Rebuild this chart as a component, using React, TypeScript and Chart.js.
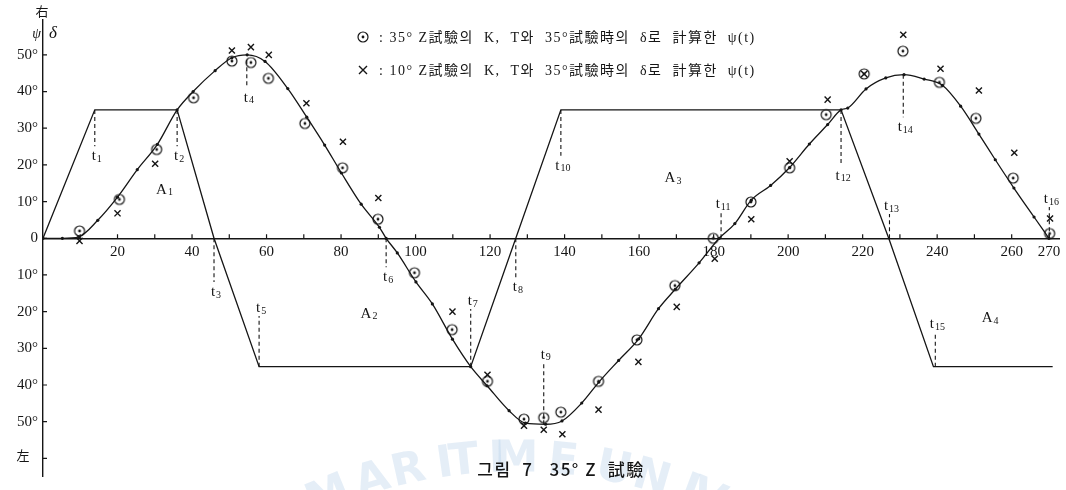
import React, { useEffect, useRef } from 'react';
import { Chart, registerables } from 'chart.js';

Chart.register(...registerables);

// ---------- data (time in sec, angles in degrees; right = +) ----------
const rudderTime = [0, 13.9, 36, 45.9, 58, 114.8, 126.9, 139, 214.2, 227, 239, 271];
const rudderDeg = [0, 35, 35, 0, -35, -35, 0, 35, 35, 0, -35, -35];

const headingTime = [0, 5.2, 9.6, 14.7, 20, 25.3, 30.7, 36, 40.3, 46.2, 50.7, 54.8, 59.6, 65.7, 70.8, 75.6, 80.1, 85.4, 90.3, 92.1, 95.1, 100.1, 104.5, 109.9, 114.8, 119.2, 125.1, 129.5, 134.9, 139.3, 144.6, 149.2, 154.5, 159.9, 165.2, 169.7, 176.1, 181.5, 185.7, 190.1, 195.3, 200.4, 205.7, 210.6, 214.2, 216, 220.9, 226.2, 231.1, 236.5, 241.4, 246.3, 251.2, 255.6, 260.6, 266, 270];
const headingDeg = [0, 0, 0.4, 4.9, 11.2, 18.7, 25.6, 35, 40, 45.7, 49.2, 50, 48.2, 40.8, 33, 25.4, 17.8, 9.3, 3, 0, -4, -11.9, -17.9, -27.5, -35, -40.2, -47, -50.4, -50.7, -49.8, -44.9, -39.2, -33.3, -27.4, -19.2, -13.9, -6.7, 0, 4, 10.4, 14.4, 19.3, 25.7, 31, 35, 35.5, 40.7, 43.7, 44.6, 43.4, 41.7, 36, 28.4, 21.4, 13.7, 5.8, 0];

// ⊙ : ψ(t) computed with K, T of the 35° Z test
const calc35Time = [9.8, 20.5, 30.5, 40.4, 50.7, 55.8, 60.5, 70.3, 80.4, 89.9, 99.7, 109.8, 119.3, 129.1, 134.4, 139, 149.1, 159.4, 169.6, 179.9, 190, 200.4, 210.2, 220.4, 230.8, 240.6, 250.4, 260.4, 270.2];
const calc35Deg = [2, 10.6, 24.2, 38.3, 48.3, 47.9, 43.6, 31.3, 19.2, 5.2, -9.4, -24.9, -39, -49.3, -48.9, -47.4, -39, -27.7, -12.9, 0, 9.9, 19.2, 33.7, 44.8, 51, 42.5, 32.7, 16.4, 1.3];

// × : ψ(t) computed with K, T of the 10° Z test
const calc10Time = [9.8, 20, 30.1, 50.7, 55.8, 60.6, 70.7, 80.5, 90, 109.9, 119.3, 129.1, 134.4, 139.4, 149.1, 159.8, 170.1, 180.3, 190.1, 200.4, 210.6, 220.4, 230.9, 240.9, 251.2, 260.7, 270.3];
const calc10Deg = [-0.7, 6.8, 20.3, 51.2, 52.1, 50, 36.8, 26.3, 11, -20, -37.2, -51.1, -52.2, -53.4, -46.7, -33.7, -18.7, -5.6, 5.2, 21, 37.8, 44.8, 55.5, 46.2, 40.3, 23.3, 5.4];

const xTickValues = [10, 20, 30, 40, 50, 60, 70, 80, 90, 100, 110, 120, 130, 140, 150, 160, 170, 180, 190, 200, 210, 220, 230, 240, 250, 260, 270];
const xLabelValues = [20, 40, 60, 80, 100, 120, 140, 160, 180, 200, 220, 240, 260, 270];
const yTickValues = [-60, -50, -40, -30, -20, -10, 0, 10, 20, 30, 40, 50];

// switching / event instants t1..t16 : time, start angle and end angle of the dashed marker
const eventTime = [13.9, 36, 45.9, 54.7, 58, 92.1, 114.8, 126.9, 134.4, 139, 182, 214.2, 227.2, 230.9, 239.5, 270.1];
const eventFrom = [35, 35, 0, 48.5, -35, 0, -35, 0, -50.7, 35, 0, 35, 0, 44.6, -35, 0];
const eventTo = [25.1, 25.1, -11.9, 41, -21.2, -7.9, -19.3, -10.6, -33.9, 22.5, 7.1, 19.8, 6.6, 33, -25.7, 8.5];

// area labels A1..A4
const areaTime = [31.8, 86.7, 168.3, 253.4];
const areaDeg = [13.2, -20.6, 16.4, -21.7];

const legendTexts = [
  ': 35° Z試驗의  K,  T와  35°試驗時의  δ로  計算한  ψ(t)',
  ': 10° Z試驗의  K,  T와  35°試驗時의  δ로  計算한  ψ(t)',
];
const titleText = '그림  7   35° Z  試驗';
const watermarkText = 'MARITIME UNIVERSITY';

const SERIF = '"Liberation Serif", "DejaVu Serif", "Noto Sans CJK KR", serif';
const CJK = '"Noto Sans CJK KR", "Noto Sans CJK SC", sans-serif';
const INK = '#151515';

function makeCircleDot(): HTMLCanvasElement {
  const c = document.createElement('canvas');
  c.width = 14;
  c.height = 14;
  const g = c.getContext('2d')!;
  g.strokeStyle = INK;
  g.lineWidth = 1.2;
  g.beginPath();
  g.arc(7, 7, 5, 0, Math.PI * 2);
  g.stroke();
  g.fillStyle = INK;
  g.beginPath();
  g.arc(7, 7, 1.4, 0, Math.PI * 2);
  g.fill();
  return c;
}

function drawSubLabel(ctx: CanvasRenderingContext2D, main: string, sub: string, cx: number, cy: number) {
  ctx.font = `15px ${SERIF}`;
  const w1 = ctx.measureText(main).width;
  ctx.font = `10px ${SERIF}`;
  const w2 = ctx.measureText(sub).width;
  const x0 = cx - (w1 + w2 + 1) / 2;
  ctx.textAlign = 'left';
  ctx.textBaseline = 'middle';
  ctx.font = `15px ${SERIF}`;
  ctx.fillText(main, x0, cy);
  ctx.font = `10px ${SERIF}`;
  ctx.fillText(sub, x0 + w1 + 1, cy + 3);
}

const decorPlugin = {
  id: 'decor',
  beforeDatasetsDraw(chart: any) {
    const ctx: CanvasRenderingContext2D = chart.ctx;
    ctx.save();
    ctx.font = `bold 44px "DejaVu Sans", sans-serif`;
    ctx.fillStyle = 'rgba(175, 202, 232, 0.33)';
    ctx.textAlign = 'center';
    ctx.textBaseline = 'middle';
    const cx = 515, cy = 950, r = 490;
    let a = -0.39;
    for (const ch of watermarkText) {
      const w = ctx.measureText(ch).width;
      const x = cx + r * Math.sin(a);
      const y = cy - r * Math.cos(a);
      ctx.save();
      ctx.translate(x, y);
      ctx.rotate(a);
      ctx.fillText(ch, 0, 0);
      ctx.restore();
      a += (w + 3) / r;
    }
    ctx.restore();
  },
  afterDraw(chart: any) {
    const ctx: CanvasRenderingContext2D = chart.ctx;
    const xs = chart.scales.x;
    const ys = chart.scales.y;
    const y0 = ys.getPixelForValue(0);
    const axX = ys.right;
    ctx.save();
    ctx.strokeStyle = INK;
    ctx.fillStyle = INK;
    ctx.lineWidth = 1.2;

    // tick marks
    ctx.beginPath();
    for (const v of yTickValues) {
      const py = ys.getPixelForValue(v);
      ctx.moveTo(axX, py);
      ctx.lineTo(axX + 4, py);
    }
    for (const v of xTickValues) {
      const px = xs.getPixelForValue(v);
      ctx.moveTo(px, y0);
      ctx.lineTo(px, y0 - 4);
    }
    ctx.stroke();

    // event markers t1..t16
    ctx.lineWidth = 1.1;
    ctx.setLineDash([4, 3]);
    ctx.beginPath();
    eventTime.forEach((t, i) => {
      const px = xs.getPixelForValue(t);
      ctx.moveTo(px, ys.getPixelForValue(eventFrom[i]));
      ctx.lineTo(px, ys.getPixelForValue(eventTo[i]));
    });
    ctx.stroke();
    ctx.setLineDash([]);
    eventTime.forEach((t, i) => {
      const px = xs.getPixelForValue(t);
      const pEnd = ys.getPixelForValue(eventTo[i]);
      const below = eventTo[i] < eventFrom[i];
      const cy = below ? pEnd + 10 : pEnd - 8;
      drawSubLabel(ctx, 't', String(i + 1), px + 2, cy);
    });

    // area labels
    areaTime.forEach((t, i) => {
      drawSubLabel(ctx, 'A', String(i + 1), xs.getPixelForValue(t) + 3, ys.getPixelForValue(areaDeg[i]));
    });

    // axis captions
    ctx.textBaseline = 'middle';
    ctx.textAlign = 'center';
    ctx.font = `13px ${CJK}`;
    ctx.fillText('右', axX - 1, 11);
    ctx.fillText('左', 23, 455);
    ctx.font = `italic 14px ${SERIF}`;
    ctx.textAlign = 'right';
    ctx.fillText('ψ', axX - 2, 34);
    ctx.font = `italic 17px ${SERIF}`;
    ctx.textAlign = 'left';
    ctx.fillText('δ', axX + 6, 34);

    // legend
    const circ = makeCircleDot();
    ctx.drawImage(circ, 363 - 7, 37 - 7);
    ctx.lineWidth = 1.4;
    ctx.beginPath();
    ctx.moveTo(359, 66); ctx.lineTo(367, 74);
    ctx.moveTo(367, 66); ctx.lineTo(359, 74);
    ctx.stroke();
    ctx.font = `14px ${SERIF}`;
    (ctx as any).letterSpacing = '1.5px';
    ctx.textAlign = 'left';
    ctx.fillText(legendTexts[0], 379, 38);
    ctx.fillText(legendTexts[1], 379, 71);

    // caption
    ctx.font = `500 17px ${CJK}`;
    (ctx as any).letterSpacing = '1.5px';
    ctx.textAlign = 'center';
    ctx.fillText(titleText, 561, 470);
    (ctx as any).letterSpacing = '0px';
    ctx.restore();
  },
};

export default function App() {
  const ref = useRef<HTMLCanvasElement | null>(null);
  useEffect(() => {
    document.body.style.margin = '0';
    document.body.style.background = '#ffffff';
    const canvas = ref.current!;
    const circleDot = makeCircleDot();
    const chart = new Chart(canvas, {
      type: 'line',
      data: {
        datasets: [
          {
            label: 'δ',
            data: rudderTime.map((t, i) => ({ x: t, y: rudderDeg[i] })),
            borderColor: INK,
            borderWidth: 1.3,
            pointRadius: 0,
            tension: 0,
          },
          {
            label: 'ψ',
            data: headingTime.map((t, i) => ({ x: t, y: headingDeg[i] })),
            borderColor: INK,
            borderWidth: 1.3,
            pointRadius: 1.6,
            pointBorderWidth: 0,
            pointBackgroundColor: INK,
            cubicInterpolationMode: 'monotone',
          },
          {
            label: '35° Z',
            data: calc35Time.map((t, i) => ({ x: t, y: calc35Deg[i] })),
            showLine: false,
            pointStyle: circleDot as any,
            pointRadius: 6,
          },
          {
            label: '10° Z',
            data: calc10Time.map((t, i) => ({ x: t, y: calc10Deg[i] })),
            showLine: false,
            pointStyle: 'crossRot',
            pointRadius: 4.3,
            borderColor: INK,
            borderWidth: 1.4,
          },
        ] as any,
      },
      options: {
        animation: false,
        responsive: false,
        events: [],
        layout: { padding: { top: 20, right: 4, bottom: 0, left: 0 } },
        plugins: { legend: { display: false }, tooltip: { enabled: false }, title: { display: false } },
        scales: {
          x: {
            type: 'linear',
            min: 0,
            max: 272.7,
            position: { y: 0 } as any,
            grid: { display: false, drawTicks: false },
            border: { display: true, color: INK, width: 1.4 },
            afterBuildTicks: (s: any) => {
              s.ticks = xTickValues.map((v) => ({ value: v }));
            },
            ticks: {
              autoSkip: false,
              maxRotation: 0,
              padding: 5,
              color: INK,
              font: { family: SERIF, size: 15 },
              callback: (v: any) => (xLabelValues.includes(Number(v)) ? String(v) : ''),
            },
          },
          y: {
            type: 'linear',
            min: -64.8,
            max: 59.5,
            position: 'left',
            afterFit: (s: any) => {
              s.width = 43;
            },
            afterBuildTicks: (s: any) => {
              s.ticks = yTickValues.map((v) => ({ value: v }));
            },
            grid: { display: false, drawTicks: false },
            border: { display: true, color: INK, width: 1.4 },
            ticks: {
              padding: 5,
              color: INK,
              font: { family: SERIF, size: 15 },
              callback: (v: any) => {
                const n = Number(v);
                if (n === -60) return '';
                if (n === 0) return '0';
                return `${Math.abs(n)}°`;
              },
            },
          },
        },
      } as any,
      plugins: [decorPlugin],
    });
    return () => chart.destroy();
  }, []);
  return (
    <div style={{ width: 1066, height: 490, background: '#fff' }}>
      <canvas ref={ref} width={1066} height={490} style={{ display: 'block' }} />
    </div>
  );
}
